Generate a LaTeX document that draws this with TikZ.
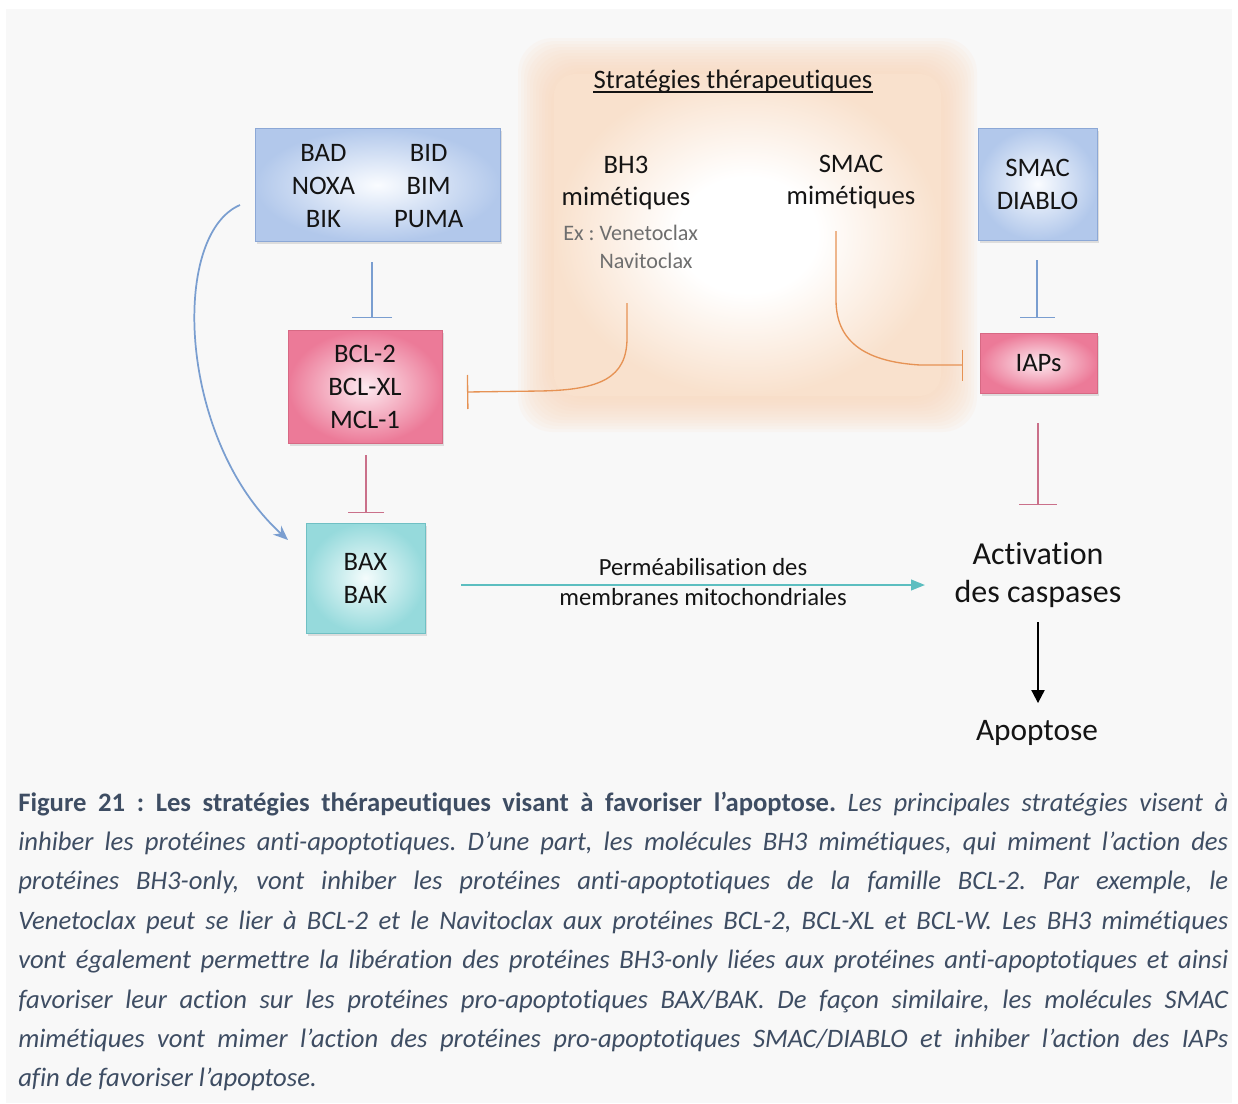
\documentclass[tikz,border=0pt]{standalone}
\usepackage{fontspec}
\setmainfont{Carlito}[Ligatures=NoCommon]
\usetikzlibrary{arrows.meta,shadows}
\frenchspacing
\definecolor{bgc}{RGB}{248,248,248}
\definecolor{glowc}{RGB}{249,216,188}
\colorlet{glowin}{glowc!72!bgc}
\definecolor{txtc}{RGB}{20,20,20}
\definecolor{grayt}{RGB}{110,110,110}
\definecolor{capc}{RGB}{62,77,99}
\definecolor{bluein}{RGB}{250,252,255}
\definecolor{blueout}{RGB}{178,200,235}
\definecolor{blued}{RGB}{140,168,214}
\definecolor{pinkin}{RGB}{253,234,240}
\definecolor{pinkout}{RGB}{236,122,152}
\definecolor{pinkd}{RGB}{215,105,132}
\definecolor{cyanin}{RGB}{244,252,252}
\definecolor{cyanout}{RGB}{150,218,220}
\definecolor{cyand}{RGB}{112,192,196}
\definecolor{bluel}{RGB}{122,158,208}
\definecolor{pinkl}{RGB}{202,112,138}
\definecolor{cyanl}{RGB}{92,190,192}
\definecolor{orangel}{RGB}{230,146,84}
\pgfdeclareradialshading{glowsh}{\pgfpoint{0bp}{0bp}}{color(0bp)=(white); color(9bp)=(white); color(25bp)=(glowin); color(50bp)=(glowin)}
\tikzset{
  boxbase/.style={font=\fontsize{20}{24.75}\selectfont, text=txtc, align=center, inner sep=0pt, line width=0.75pt,
    drop shadow={shadow xshift=1.5pt, shadow yshift=-2pt, opacity=0.22}},
  bluebox/.style={boxbase, draw=blued, inner color=bluein, outer color=blueout},
  pinkbox/.style={boxbase, draw=pinkd, inner color=pinkin, outer color=pinkout},
  cyanbox/.style={boxbase, draw=cyand, inner color=cyanin, outer color=cyanout},
  lbl/.style={text=txtc, inner sep=0pt},
  inhibline/.style={line width=1.1pt},
  orangeline/.style={orangel, line width=1pt},
  capline/.style={anchor=base west, inner sep=0pt, font=\fontsize{20}{29.5}\selectfont, text=capc},
}
\begin{document}
\begin{tikzpicture}[x=0.75pt,y=-0.75pt]
\useasboundingbox (0,0) rectangle (1238,1103);
\fill[white] (0,0) rectangle (1238,1103);
\fill[bgc] (6,9) rectangle (1232,1103);
% orange glow panel
\foreach \i in {0,...,11}{
  \fill[glowc, opacity=0.1, rounded corners=26pt] ({518+3*\i},{38+3*\i}) rectangle ({977-3*\i},{432-3*\i});
}
\shade[shading=glowsh, rounded corners=16pt] (554,74) rectangle (941,396);

% boxes
\node[bluebox, minimum width=183.75pt, minimum height=84.75pt] (bh3) at (377.5,185)
  {\raisebox{-2pt}[\height][\depth]{\begin{tabular}{@{}c@{\hspace{29.25pt}}c@{}}BAD&BID\\NOXA&BIM\\BIK&PUMA\end{tabular}}};
\node[pinkbox, minimum width=115.5pt, minimum height=84.75pt] (bcl) at (365,387) {BCL-2\\BCL-XL\\MCL-1};
\node[cyanbox, minimum width=89.25pt, minimum height=82.5pt] (bax) at (365.5,578) {BAX\\BAK};
\node[bluebox, minimum width=89.25pt, minimum height=84pt] (smac) at (1037.5,184) {SMAC\\DIABLO};
\node[pinkbox, minimum width=87.75pt, minimum height=45pt, text depth=0pt] (iaps) at (1038.5,363) {IAPs};

% labels
\node[lbl, anchor=base, font=\fontsize{20}{24}\selectfont] (strat) at (733,88) {Stratégies thérapeutiques};
\draw[txtc, line width=0.9pt] ([yshift=-3pt]strat.base west) -- ([yshift=-3pt]strat.base east);
\node[lbl, align=center, font=\fontsize{20}{24}\selectfont] (bh3m) at (626,183.4) {BH3\\mimétiques};
\node[lbl, align=center, font=\fontsize{20}{24}\selectfont] (smacm) at (851,182.4) {SMAC\\mimétiques};
\node[lbl, align=left, anchor=west, text=grayt, font=\fontsize{16.6}{21}\selectfont] (ex) at (563,246.5) {Ex : Venetoclax\\\phantom{Ex : }Navitoclax};
\node[lbl, align=center, font=\fontsize{18.5}{22.5}\selectfont] (perm) at (703,582) {Perméabilisation des\\membranes mitochondriales};
\node[lbl, align=center, font=\fontsize{24}{28.5}\selectfont] (act) at (1038,575) {Activation\\des caspases};
\node[lbl, anchor=base, font=\fontsize{23.5}{28}\selectfont] (apop) at (1037,740) {Apoptose};

% connector end points
\coordinate (i1s) at (372,262);   \coordinate (i1e) at (372,318);
\coordinate (i2s) at (366,455);   \coordinate (i2e) at (366,513);
\coordinate (i3s) at (1037,260);  \coordinate (i3e) at (1037,318);
\coordinate (i4s) at (1038,423);  \coordinate (i4e) at (1038,505);
\coordinate (a1s) at (1038,622);  \coordinate (a1e) at (1038,703);
\coordinate (a2s) at (461,585);   \coordinate (a2e) at (925,585);
\coordinate (cvs) at (240,205);   \coordinate (cve) at (288,540);
\coordinate (o1s) at (627,303);   \coordinate (o1e) at (467,392);
\coordinate (o2s) at (836,231);   \coordinate (o2e) at (963,365);

% connectors
\draw[inhibline, bluel, -{Bar[width=30pt]}] (i1s) -- (i1e);
\draw[inhibline, pinkl, -{Bar[width=27pt]}] (i2s) -- (i2e);
\draw[inhibline, bluel, -{Bar[width=26.25pt]}] (i3s) -- (i3e);
\draw[inhibline, pinkl, -{Bar[width=28pt]}] (i4s) -- (i4e);
\draw[black, line width=0.9pt, -{Triangle[length=9.75pt,width=10pt]}] (a1s) -- (a1e);
\draw[cyanl, line width=1.5pt, -{Triangle[length=10.5pt,width=8pt]}] (a2s) -- (a2e);
\draw[bluel, line width=1.3pt, -{Stealth[length=11pt,width=9pt]}] (cvs) .. controls (170,235) and (178,440) .. (cve);
\draw[orangeline, -{Bar[width=25.5pt]}] (o1s) -- (627,338) .. controls (627,378) and (600,390) .. (540,391) -- (o1e);
\draw[orangeline, -{Bar[width=23.25pt]}] (o2s) -- (836,300) .. controls (836,345) and (870,362) .. (920,365) -- (o2e);

% caption
\node[capline] (c1) at (18,811) {\hbox to 907.5pt{\textbf{Figure 21 : Les stratégies thérapeutiques visant à favoriser l’apoptose.} \textit{Les principales stratégies visent à}}};
\node[capline] (c2) at (18,850.4) {\hbox to 907.5pt{\itshape inhiber les protéines anti-apoptotiques. D’une part, les molécules BH3 mimétiques, qui miment l’action des}};
\node[capline] (c3) at (18,889.8) {\hbox to 907.5pt{\itshape protéines BH3-only, vont inhiber les protéines anti-apoptotiques de la famille BCL-2. Par exemple, le}};
\node[capline] (c4) at (18,929.2) {\hbox to 907.5pt{\itshape Venetoclax peut se lier à BCL-2 et le Navitoclax aux protéines BCL-2, BCL-XL et BCL-W. Les BH3 mimétiques}};
\node[capline] (c5) at (18,968.6) {\hbox to 907.5pt{\itshape vont également permettre la libération des protéines BH3-only liées aux protéines anti-apoptotiques et ainsi}};
\node[capline] (c6) at (18,1008) {\hbox to 907.5pt{\itshape favoriser leur action sur les protéines pro-apoptotiques BAX/BAK. De façon similaire, les molécules SMAC}};
\node[capline] (c7) at (18,1047.4) {\hbox to 907.5pt{\itshape mimétiques vont mimer l’action des protéines pro-apoptotiques SMAC/DIABLO et inhiber l’action des IAPs}};
\node[capline] (c8) at (18,1086.8) {\itshape afin de favoriser l’apoptose.};
\end{tikzpicture}
\end{document}
